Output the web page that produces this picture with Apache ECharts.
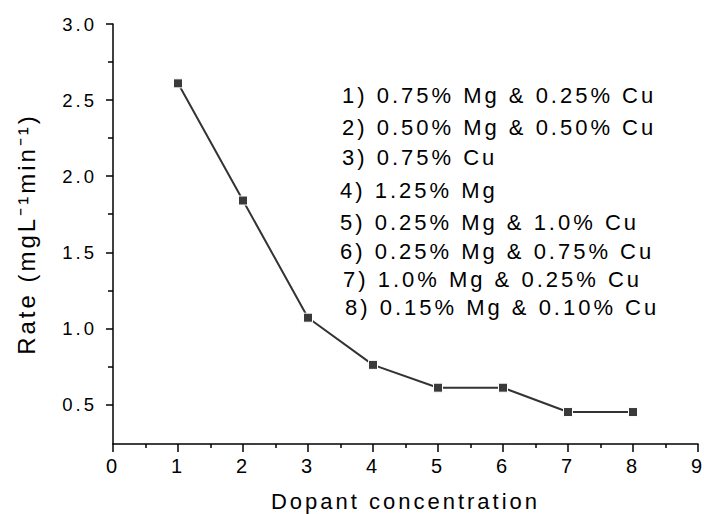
<!DOCTYPE html>
<html>
<head>
<meta charset="utf-8">
<script src="https://cdn.jsdelivr.net/npm/echarts@6/dist/echarts.min.js"></script>
<style>
html,body{margin:0;padding:0;background:#fff;}
#c{width:704px;height:514px;}
#c text{letter-spacing:3px;}
</style>
</head>
<body>
<div id="c"></div>
<script>
// ---- data ----
const dopantIndex = [1, 2, 3, 4, 5, 6, 7, 8];
const rateValues = [2.61, 1.84, 1.07, 0.76, 0.61, 0.61, 0.45, 0.45];
const dopantLabels = [
  '1) 0.75% Mg & 0.25% Cu',
  '2) 0.50% Mg & 0.50% Cu',
  '3) 0.75% Cu',
  '4) 1.25% Mg',
  '5) 0.25% Mg & 1.0% Cu',
  '6) 0.25% Mg & 0.75% Cu',
  '7) 1.0% Mg & 0.25% Cu',
  '8) 0.15% Mg & 0.10% Cu'
];
const yMajorTicks = [0.5, 1.0, 1.5, 2.0, 2.5, 3.0];
const yMinorTicks = [0.75, 1.25, 1.75, 2.25, 2.75];
const xAxisTitle = 'Dopant concentration';
const yAxisTitle = 'Rate (mgL\u207B\u00B9min\u207B\u00B9)';

// ---- layout ----
const noteX = [342, 342, 342, 340, 340, 340, 343, 345];
const noteY = [95, 127, 157, 190, 222, 251, 279, 307];
const FONT = '"Liberation Sans", Arial, sans-serif';

const chart = echarts.init(document.getElementById('c'), null, {renderer: 'svg'});

const noteGraphics = dopantLabels.map((t, i) => ({
  type: 'text',
  x: noteX[i],
  y: noteY[i],
  style: {
    text: t,
    fill: '#000',
    font: '22px ' + FONT,
    textAlign: 'left',
    textVerticalAlign: 'middle'
  }
}));

const axisLineStyle = {color: '#000', width: 1.5};

const option = {
  animation: false,
  backgroundColor: '#fff',
  grid: {left: 113, right: 6, top: 24, bottom: 70, containLabel: false, outerBoundsMode: 'none'},
  xAxis: {
    type: 'value',
    min: 0,
    max: 9,
    interval: 1,
    name: xAxisTitle,
    nameLocation: 'middle',
    nameGap: 46,
    nameTextStyle: {fontSize: 22, color: '#000', fontFamily: FONT},
    axisLine: {show: true, onZero: false, lineStyle: axisLineStyle},
    axisTick: {show: true, inside: false, length: 8, lineStyle: axisLineStyle},
    minorTick: {show: true, splitNumber: 2, length: 4, lineStyle: axisLineStyle},
    axisLabel: {fontSize: 20, color: '#000', fontFamily: FONT, margin: 12},
    splitLine: {show: false},
    minorSplitLine: {show: false}
  },
  yAxis: [{
    type: 'value',
    min: 0.24,
    max: 3.0,
    position: 'left',
    name: yAxisTitle,
    nameLocation: 'middle',
    nameGap: 75,
    nameRotate: 90,
    nameTextStyle: {fontSize: 24, color: '#000', fontFamily: FONT},
    axisLine: {show: true, onZero: false, lineStyle: axisLineStyle},
    axisTick: {show: true, inside: false, length: 7, lineStyle: axisLineStyle, customValues: yMajorTicks},
    axisLabel: {fontSize: 18.5, color: '#000', fontFamily: FONT, margin: 16,
      customValues: yMajorTicks, formatter: v => v.toFixed(1)},
    splitLine: {show: false}
  }, {
    type: 'value',
    min: 0.24,
    max: 3.0,
    position: 'left',
    axisLine: {show: false},
    axisTick: {show: true, inside: false, length: 5, lineStyle: axisLineStyle, customValues: yMinorTicks},
    axisLabel: {show: false, customValues: yMinorTicks},
    splitLine: {show: false}
  }],
  graphic: noteGraphics,
  series: [{
    type: 'line',
    xAxisIndex: 0,
    yAxisIndex: 0,
    data: dopantIndex.map((x, i) => [x, rateValues[i]]),
    symbol: 'rect',
    symbolSize: 9,
    showSymbol: true,
    lineStyle: {color: '#333', width: 2},
    itemStyle: {color: '#3a3a3a', borderColor: '#fff', borderWidth: 1}
  }]
};
chart.setOption(option);
</script>
</body>
</html>
